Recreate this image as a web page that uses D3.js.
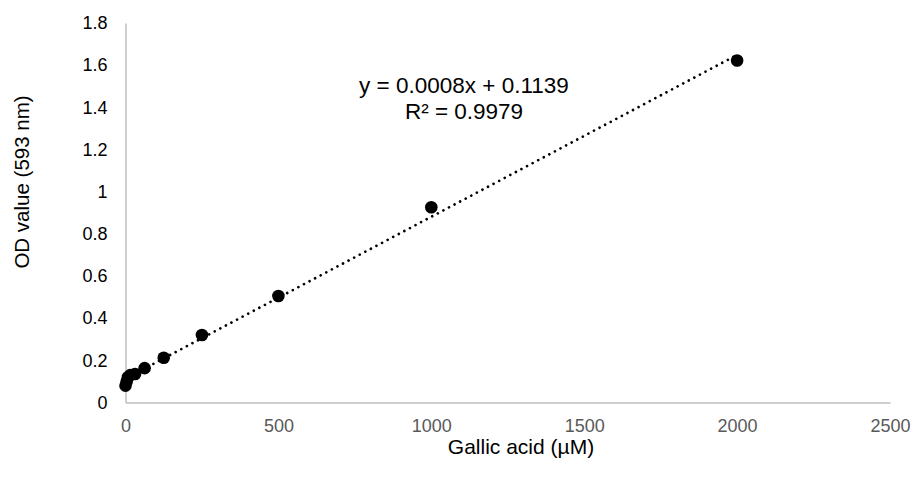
<!DOCTYPE html>
<html>
<head>
<meta charset="utf-8">
<script src="https://cdn.jsdelivr.net/npm/d3@7"></script>
<style>
  body { margin: 0; background: #fff; }
  text { font-family: "Liberation Sans", Arial, sans-serif; }
</style>
</head>
<body>
<div id="chart"></div>
<script>
var svgWidth = 915;
var svgHeight = 479;

// data
var concentration = [0, 3.9, 7.8, 15.6, 31.25, 62.5, 125, 250, 500, 1000, 2000];
var odValue = [0.08, 0.10, 0.12, 0.13, 0.135, 0.163, 0.212, 0.32, 0.505, 0.926, 1.622];
var xTicks = [0, 500, 1000, 1500, 2000, 2500];
var yTicks = [0, 0.2, 0.4, 0.6, 0.8, 1, 1.2, 1.4, 1.6, 1.8];
var equationLines = ["y = 0.0008x + 0.1139", "R\u00B2 = 0.9979"];

var margin = { top: 23, right: 25, bottom: 76.5, left: 125.5 };
var width = svgWidth - margin.left - margin.right;
var height = svgHeight - margin.top - margin.bottom;

var svg = d3.select("#chart")
    .append("svg")
    .attr("width", svgWidth)
    .attr("height", svgHeight);

var chart = svg.append("g")
    .attr("transform", `translate(${margin.left}, ${margin.top})`);

var xScale = d3.scaleLinear().domain([0, 2500]).range([0, width]);
var yScale = d3.scaleLinear().domain([0, 1.8]).range([height, 0]);

// axes
var bottomAxis = d3.axisBottom(xScale).tickValues(xTicks).tickSize(0).tickPadding(17)
    .tickFormat(d3.format("d"));
var leftAxis = d3.axisLeft(yScale).tickValues(yTicks).tickSize(0).tickPadding(18)
    .tickFormat(d3.format("~g"));

var gx = chart.append("g")
    .attr("transform", `translate(0, ${height})`)
    .call(bottomAxis);
gx.select(".domain").attr("stroke", "#bfbfbf").attr("stroke-width", 1.5);
gx.selectAll("text")
    .attr("font-size", 18)
    .attr("fill", "#595959")
    .attr("font-family", "Liberation Sans, Arial, sans-serif");

var gy = chart.append("g").call(leftAxis);
gy.select(".domain").attr("stroke", "#bfbfbf").attr("stroke-width", 1.5);
gy.selectAll("text")
    .attr("font-size", 18)
    .attr("fill", "#000")
    .attr("font-family", "Liberation Sans, Arial, sans-serif");

// axis titles
svg.append("text")
    .attr("x", 521)
    .attr("y", 454)
    .attr("text-anchor", "middle")
    .attr("font-size", 21)
    .attr("fill", "#000")
    .text("Gallic acid (\u00B5M)");

svg.append("text")
    .attr("transform", "translate(29, 182) rotate(-90)")
    .attr("text-anchor", "middle")
    .attr("font-size", 20.5)
    .attr("fill", "#000")
    .text("OD value (593 nm)");

// linear trendline (least squares)
var mx = d3.mean(concentration), my = d3.mean(odValue);
var sxy = d3.sum(concentration, (x, i) => (x - mx) * (odValue[i] - my));
var sxx = d3.sum(concentration, x => (x - mx) * (x - mx));
var slope = sxy / sxx;
var intercept = my - slope * mx;
var xExtent = d3.extent(concentration);

chart.append("line")
    .attr("x1", xScale(xExtent[0]))
    .attr("y1", yScale(intercept + slope * xExtent[0]))
    .attr("x2", xScale(xExtent[1]))
    .attr("y2", yScale(intercept + slope * xExtent[1]))
    .attr("stroke", "#000")
    .attr("stroke-width", 2.7)
    .attr("stroke-linecap", "round")
    .attr("stroke-dasharray", "0.01 6.3");

// points
chart.selectAll("circle")
    .data(concentration)
    .enter()
    .append("circle")
    .attr("cx", d => xScale(d))
    .attr("cy", (d, i) => yScale(odValue[i]))
    .attr("r", 6.3)
    .attr("fill", "#000");

// equation label
svg.append("g")
    .selectAll("text")
    .data(equationLines)
    .enter()
    .append("text")
    .attr("x", 464)
    .attr("y", (d, i) => 93 + i * 25.5)
    .attr("text-anchor", "middle")
    .attr("font-size", 22.5)
    .attr("fill", "#000")
    .text(d => d);
</script>
</body>
</html>
